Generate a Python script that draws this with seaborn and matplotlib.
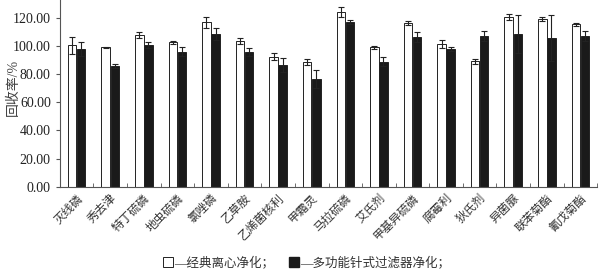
import matplotlib
matplotlib.use("Agg")
import matplotlib.pyplot as plt
import seaborn as sns
import pandas as pd
import numpy as np
from matplotlib.patches import Patch

categories = ["灭线磷", "秀去津", "特丁硫磷", "地虫硫磷", "氯唑磷", "乙草胺", "乙烯菌核利", "甲霜灵",
              "马拉硫磷", "艾氏剂", "甲基异硫磷", "腐霉利", "狄氏剂", "异菌脲", "联苯菊酯", "氰戊菊酯"]
series_names = ["—经典离心净化；", "—多功能针式过滤器净化；"]
classic = [100.4, 98.9, 107.5, 102.5, 116.7, 103.7, 92.3, 88.5, 123.8, 98.9, 116.4, 101.5, 89.0, 120.7, 119.1, 115.3]
classic_err = [6.1, 0.5, 2.1, 0.9, 3.8, 2.1, 2.4, 1.9, 3.5, 1.0, 1.5, 2.9, 1.9, 2.1, 1.1, 1.1]
filt = [97.8, 85.9, 100.6, 95.9, 108.4, 95.6, 86.2, 76.2, 116.9, 88.8, 106.3, 97.8, 107.0, 108.4, 105.6, 107.0]
filt_err = [4.9, 1.4, 1.9, 3.0, 4.5, 3.1, 4.9, 6.4, 1.2, 3.0, 3.8, 1.6, 3.3, 13.3, 16.1, 3.5]
yticks = [0, 20, 40, 60, 80, 100, 120]

sns.set_style("ticks")
plt.rcParams['font.family'] = ['Liberation Serif', 'Noto Sans CJK SC']

df = pd.DataFrame({
    "cat": categories * 2,
    "val": classic + filt,
    "err": classic_err + filt_err,
    "series": [series_names[0]] * len(categories) + [series_names[1]] * len(categories),
})

fig = plt.figure(figsize=(5.99, 2.71), dpi=100)
ax = fig.add_axes([0.1, 0.311, 0.897, 0.689])

sns.barplot(data=df, x="cat", y="val", hue="series", hue_order=series_names,
            palette=["white", "#1a1a1a"], edgecolor="#222222", linewidth=0.7,
            width=0.54, gap=0.06, errorbar=None, legend=False, ax=ax)

for cont, errs in zip(ax.containers, [classic_err, filt_err]):
    xs = [p.get_x() + p.get_width() / 2 for p in cont.patches]
    ys = [p.get_height() for p in cont.patches]
    ax.errorbar(xs, ys, yerr=errs, fmt="none", ecolor="#222222", elinewidth=0.8,
                capsize=2.5, capthick=0.8)

ax.set_ylim(0, 132.6)
ax.set_xlim(-0.5, len(categories) - 0.5)
ax.set_yticks(yticks)
ax.set_yticklabels([f"{v:.2f}" for v in yticks], fontsize=10)
ax.set_ylabel("回收率/%", fontsize=10, color="#444444")
ax.yaxis.set_label_coords(-0.075, 0.53)
ax.set_xlabel("")
ax.set_xticks(np.arange(len(categories)))
ax.set_xticklabels(categories, rotation=45, ha="right", rotation_mode="anchor", fontsize=8.5,
                   color="#333333")
ax.tick_params(axis="x", length=0, pad=4)
ax.set_xticks(np.arange(len(categories) + 1) - 0.5, minor=True)
ax.tick_params(axis="x", which="minor", direction="in", length=3, color="#555555")
ax.tick_params(axis="y", direction="out", length=3, color="#555555", labelcolor="#222222")
for s in ["top", "right"]:
    ax.spines[s].set_visible(False)
for s in ["left", "bottom"]:
    ax.spines[s].set_color("#555555")
    ax.spines[s].set_linewidth(0.8)

handles = [Patch(facecolor="white", edgecolor="#222222", linewidth=0.7),
           Patch(facecolor="#1a1a1a", edgecolor="#1a1a1a")]
fig.legend(handles, series_names, loc="center", bbox_to_anchor=(0.512, 0.03), ncol=2,
           frameon=False, fontsize=9, handlelength=0.8, handleheight=0.8, handletextpad=0.1,
           columnspacing=1.2, labelcolor="#333333")

fig.savefig("out.png", dpi=100)
